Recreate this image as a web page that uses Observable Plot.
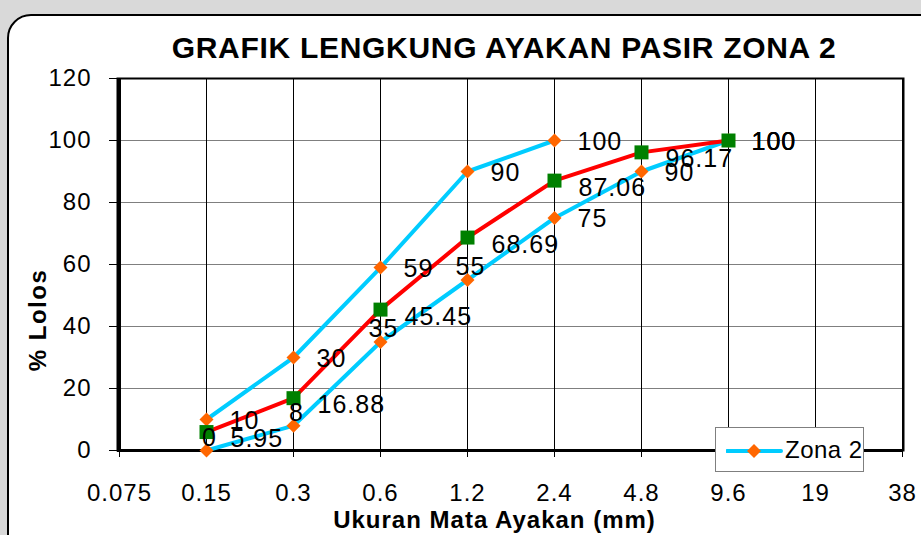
<!DOCTYPE html>
<html>
<head>
<meta charset="utf-8">
<script src="https://cdn.jsdelivr.net/npm/d3@7"></script>
<script src="https://cdn.jsdelivr.net/npm/@observablehq/plot@0.6"></script>
<style>
  html, body { margin: 0; padding: 0; }
  body { width: 921px; height: 535px; overflow: hidden; background: #d9d9d9; position: relative;
         font-family: "Liberation Sans", Arial, sans-serif; }
  #frame { position: absolute; left: 7px; top: 14px; width: 960px; height: 600px; border: 2px solid #000;
           border-radius: 24px; background: #fff; box-sizing: border-box; }
  #title { position: absolute; left: 0; width: 1008px; top: 33px; text-align: center; font-weight: bold;
           font-size: 30px; line-height: 30px; letter-spacing: 0.7px; white-space: nowrap; color: #000; }
  #ytitle { position: absolute; left: 38px; top: 320px; transform: translate(-50%, -50%) rotate(-90deg);
            font-weight: bold; font-size: 24px; line-height: 24px; letter-spacing: 1.5px; white-space: nowrap; color: #000; }
  #chart { position: absolute; left: 0; top: 60px; }
  #legend { position: absolute; left: 715px; top: 427px; width: 149px; height: 45px; box-sizing: border-box;
            border: 1px solid #7f7f7f; background: #fff; }
  #legend svg { position: absolute; left: 10px; top: 12px; }
  #legend span { position: absolute; left: 69px; top: 9px; font-size: 24px; line-height: 26px; letter-spacing: 0.5px; color: #000; }
</style>
</head>
<body>
<div id="frame"></div>
<div id="title"></div>
<div id="chart"></div>
<div id="ytitle"></div>
<div id="legend">
  <svg width="58" height="22" viewBox="0 0 58 22">
    <line x1="1" y1="11" x2="55" y2="11" stroke="#00ccff" stroke-width="4" stroke-linecap="round"></line>
    <polygon points="28,4 35,11 28,18 21,11" fill="#ff6600"></polygon>
  </svg>
  <span id="legendText"></span>
</div>
<script>
// ---- data ----
const sieveSizes = ["0.075", "0.15", "0.3", "0.6", "1.2", "2.4", "4.8", "9.6", "19", "38"];
const upperLimit = [null, 10, 30, 59, 90, 100, null, 100, null, null];
const lowerLimit = [null, 0, 8, 35, 55, 75, 90, 100, null, null];
const passing    = [null, 5.95, 16.88, 45.45, 68.69, 87.06, 96.17, 100, null, null];
const yTicks = [0, 20, 40, 60, 80, 100, 120];
const chartTitle = "GRAFIK LENGKUNG AYAKAN PASIR ZONA 2";
const xTitle = "Ukuran Mata Ayakan (mm)";
const yTitle = "% Lolos";
const legendLabel = "Zona 2";

document.getElementById("title").textContent = chartTitle;
document.getElementById("ytitle").textContent = yTitle;
document.getElementById("legendText").textContent = legendLabel;

function rows(values) {
  return sieveSizes.map((s, i) => ({size: s, value: values[i], idx: i}));
}
const upperRows = rows(upperLimit);
const lowerRows = rows(lowerLimit);
const passRows = rows(passing);
const has = d => d.value != null;
const yMax = d3.max(yTicks.slice(0, -1));

const cyan = "#00ccff", orange = "#ff6600", red = "#ff0000", green = "#008000";
const labelFont = 25;
const lbl = d => String(d.value);

// first defined lower points get labels above the marker
const lowerDefined = lowerRows.filter(has);
const lowerAbove = lowerDefined.slice(0, 4);
const lowerRight = lowerDefined.slice(4);
const passDefined = passRows.filter(has);

const chart = Plot.plot({
  width: 921,
  height: 475,
  marginLeft: 117,
  marginRight: 18,
  marginTop: 18,
  marginBottom: 85,
  style: {
    fontFamily: "'Liberation Sans', Arial, sans-serif",
    fontSize: "24px",
    color: "#000",
    background: "transparent",
    overflow: "visible",
    letterSpacing: "1px"
  },
  x: {type: "point", domain: sieveSizes, padding: 0, tickSize: 7, tickPadding: 26, label: null},
  y: {domain: [0, 120], ticks: yTicks, tickSize: 8, tickPadding: 18, label: null},
  marks: [
    Plot.ruleY(yTicks.filter(v => v > 0 && v < 120), {stroke: "#7f7f7f", strokeWidth: 1}),
    Plot.ruleX(sieveSizes, {stroke: "#000", strokeWidth: 1}),
    Plot.frame({stroke: "#000", strokeWidth: 2}),
    Plot.ruleY([0], {stroke: "#000", strokeWidth: 3}),
    Plot.ruleX([sieveSizes[0]], {stroke: "#000", strokeWidth: 3}),

    Plot.line(lowerRows, {x: "size", y: "value", stroke: cyan, strokeWidth: 4}),
    Plot.dot(lowerDefined, {x: "size", y: "value", symbol: "diamond2", r: 6.3, fill: orange, stroke: "none"}),
    Plot.line(upperRows, {x: "size", y: "value", stroke: cyan, strokeWidth: 4}),
    Plot.dot(upperRows.filter(has), {x: "size", y: "value", symbol: "diamond2", r: 6.3, fill: orange, stroke: "none"}),
    Plot.line(passRows, {x: "size", y: "value", stroke: red, strokeWidth: 4}),
    Plot.dot(passDefined, {x: "size", y: "value", symbol: "square", r: 7.9, fill: green, stroke: "none"}),

    Plot.text(upperRows.filter(has), {x: "size", y: "value", text: lbl, textAnchor: "start", dx: 23, dy: 1, fontSize: labelFont, letterSpacing: "0.5px"}),
    Plot.text(lowerAbove, {x: "size", y: "value", text: lbl, textAnchor: "middle", dx: 3, dy: -13, fontSize: labelFont, letterSpacing: "0.5px"}),
    Plot.text(lowerRight, {x: "size", y: "value", text: lbl, textAnchor: "start", dx: 23, dy: 1, fontSize: labelFont, letterSpacing: "0.5px"}),
    Plot.text(passDefined.filter(d => d.value < yMax), {x: "size", y: "value", text: lbl, textAnchor: "start", dx: 24, dy: 7, fontSize: labelFont, letterSpacing: "0.5px"}),
    Plot.text(passDefined.filter(d => d.value >= yMax), {x: "size", y: "value", text: lbl, textAnchor: "start", dx: 23, dy: 1, fontSize: labelFont, letterSpacing: "0.5px"}),

    Plot.text([xTitle], {frameAnchor: "bottom", dx: -16, dy: 77, fontWeight: "bold", fontSize: 24, letterSpacing: "1.2px"})
  ]
});
document.getElementById("chart").appendChild(chart);
</script>
</body>
</html>
